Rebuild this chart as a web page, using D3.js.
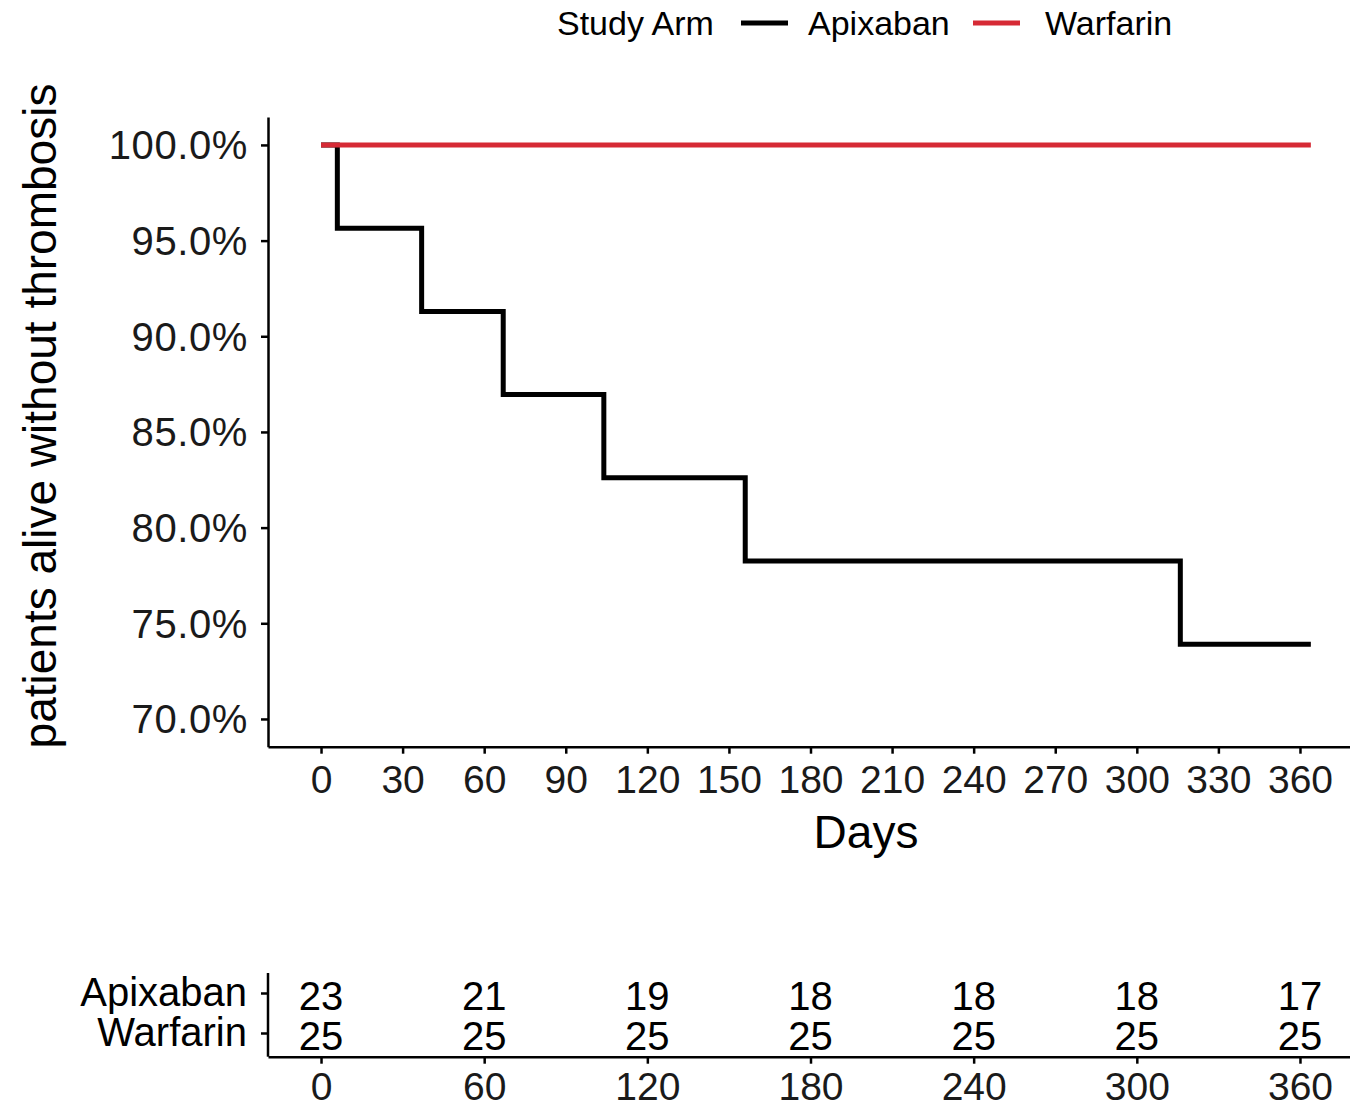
<!DOCTYPE html>
<html>
<head>
<meta charset="utf-8">
<script src="https://cdn.jsdelivr.net/npm/d3@7"></script>
<style>
  html, body { margin: 0; padding: 0; background: #fff; }
  svg { display: block; font-family: "Liberation Sans", Arial, Helvetica, sans-serif; }
</style>
</head>
<body>
<svg id="chart" width="1350" height="1107"></svg>
<script>
// ---- Data ----
const armNames = ["Apixaban", "Warfarin"];
const armColors = ["#000000", "#d62a35"];
const apixabanDays = [0, 6, 37, 67, 104, 156, 316, 364];
const apixabanSurv = [1.0, 0.9565, 0.9130, 0.8696, 0.8261, 0.7826, 0.7391, 0.7391];
const warfarinDays = [0, 364];
const warfarinSurv = [1.0, 1.0];
const xTicks = [0, 30, 60, 90, 120, 150, 180, 210, 240, 270, 300, 330, 360];
const yTicks = [0.70, 0.75, 0.80, 0.85, 0.90, 0.95, 1.00];
const riskDays = [0, 60, 120, 180, 240, 300, 360];
const apixabanAtRisk = [23, 21, 19, 18, 18, 18, 17];
const warfarinAtRisk = [25, 25, 25, 25, 25, 25, 25];

const svg = d3.select("#chart");

// ---- Scales ----
const x = d3.scaleLinear().domain([-19.5, 379.5]).range([268, 1353]);
const y = d3.scaleLinear().domain([0.6855, 1.0146]).range([746.7, 117]);

// ---- Main plot axes ----
const gx = svg.append("g").attr("transform", "translate(0,746.7)")
  .call(d3.axisBottom(x).tickValues(xTicks).tickSize(7).tickPadding(10).tickSizeOuter(0));
const gy = svg.append("g").attr("transform", "translate(268,0)")
  .call(d3.axisLeft(y).tickValues(yTicks).tickSize(7).tickPadding(13).tickSizeOuter(0)
    .tickFormat(d3.format(".1%")));
[gx, gy].forEach(g => {
  g.select(".domain").attr("stroke", "#000").attr("stroke-width", 2.5);
  g.selectAll(".tick line").attr("stroke", "#000").attr("stroke-width", 2.5);
  g.selectAll(".tick text").attr("fill", "#1a1a1a");
});
gy.selectAll(".tick text").attr("dy", "0.35em").style("font-size", "40px").style("letter-spacing", "0.6px");
gx.selectAll(".tick text").attr("dy", "0.75em").style("font-size", "39px");

// ---- Survival step lines ----
const line = d3.line().x(d => x(d[0])).y(d => y(d[1])).curve(d3.curveStepAfter);
const series = [
  d3.zip(apixabanDays, apixabanSurv),
  d3.zip(warfarinDays, warfarinSurv)
];
series.forEach((s, i) => {
  svg.append("path").datum(s).attr("d", line)
    .attr("fill", "none").attr("stroke", armColors[i])
    .attr("stroke-width", 5).attr("stroke-linejoin", "miter");
});

// ---- Axis titles ----
svg.append("text").attr("x", 866).attr("y", 848).attr("text-anchor", "middle")
  .style("font-size", "46px").attr("fill", "#000").text("Days");
svg.append("text").attr("transform", "translate(56,416) rotate(-90)")
  .attr("text-anchor", "middle").style("font-size", "46px").attr("fill", "#000")
  .text("patients alive without thrombosis");

// ---- Legend ----
const legend = svg.append("g");
legend.append("text").attr("x", 557).attr("y", 35).style("font-size", "34px")
  .attr("fill", "#000").text("Study Arm");
const keyX = [741, 973];
const labX = [808, 1045];
armNames.forEach((n, i) => {
  legend.append("line").attr("x1", keyX[i]).attr("x2", keyX[i] + 47)
    .attr("y1", 23).attr("y2", 23).attr("stroke", armColors[i]).attr("stroke-width", 5);
  legend.append("text").attr("x", labX[i]).attr("y", 35).style("font-size", "34px")
    .attr("fill", "#000").text(n);
});

// ---- Risk table ----
const yr = d3.scalePoint().domain(armNames).range([993, 1033]);
const grx = svg.append("g").attr("transform", "translate(0,1056.7)")
  .call(d3.axisBottom(x).tickValues(riskDays).tickSize(7).tickPadding(7).tickSizeOuter(0));
const gry = svg.append("g").attr("transform", "translate(268,0)")
  .call(d3.axisLeft(yr).tickSize(7).tickPadding(14).tickSizeOuter(0));
gry.select(".domain").attr("d", "M0,973V1056.7");
[grx, gry].forEach(g => {
  g.select(".domain").attr("stroke", "#000").attr("stroke-width", 2.5);
  g.selectAll(".tick line").attr("stroke", "#000").attr("stroke-width", 2.5);
  g.selectAll(".tick text").attr("fill", "#000");
});
gry.selectAll(".tick text").style("font-size", "40px").attr("dy", "0.3em");
grx.selectAll(".tick text").attr("fill", "#1a1a1a").attr("dy", "0.75em").style("font-size", "39px");

const riskRows = [apixabanAtRisk, warfarinAtRisk];
riskRows.forEach((row, i) => {
  svg.append("g").selectAll("text").data(row).join("text")
    .attr("x", (d, j) => x(riskDays[j]))
    .attr("y", yr(armNames[i]))
    .attr("dy", "0.42em")
    .attr("text-anchor", "middle")
    .style("font-size", "40px")
    .attr("fill", "#000")
    .text(d => d);
});
</script>
</body>
</html>
